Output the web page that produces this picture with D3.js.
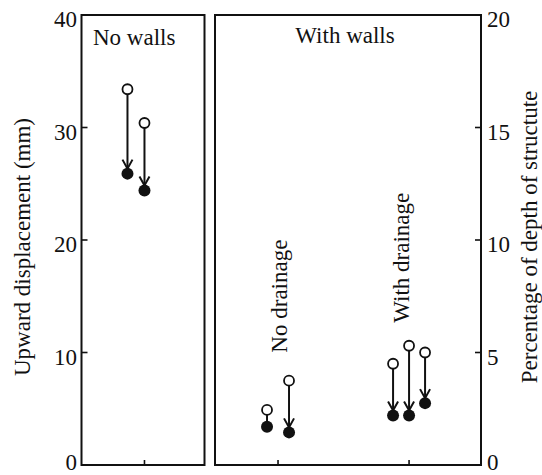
<!DOCTYPE html>
<html>
<head>
<meta charset="utf-8">
<script src="https://cdn.jsdelivr.net/npm/d3@7"></script>
<style>
  html, body { margin: 0; padding: 0; background: #fff; }
  svg { display: block; font-family: "Liberation Serif", "Times New Roman", serif; }
  svg text { font-family: "Liberation Serif", "Times New Roman", serif !important; }
</style>
</head>
<body>
<svg id="chart" width="542" height="475" font-family="Liberation Serif"></svg>
<script>
// ---- data ----
const panels = ["No walls", "With walls"];
const groups = ["No walls", "No drainage", "With drainage"];
const groupPanel = ["No walls", "With walls", "With walls"];
const testGroup = ["No walls", "No walls", "No drainage", "No drainage", "With drainage", "With drainage", "With drainage"];
const beforeMM = [33.4, 30.4, 4.9, 7.5, 9.0, 10.6, 10.0];   // open circles
const afterMM  = [25.9, 24.4, 3.4, 2.9, 4.4, 4.4, 5.5];     // filled circles
const leftTicks = [0, 10, 20, 30, 40];
const rightTicks = [0, 5, 10, 15, 20];
const leftLabel = "Upward displacement (mm)";
const rightLabel = "Percentage of depth of structute";

(function () {
// ---- layout ----
const FONT = "Liberation Serif";
const FS = 23;
const svg = d3.select("#chart");
const plotTop = 15, plotBottom = 465;
const panelX = { "No walls": [81.5, 204.5], "With walls": [215, 481] };
const y = d3.scaleLinear().domain([0, 40]).range([plotBottom, plotTop]);
const yR = d3.scaleLinear().domain([0, 20]).range([plotBottom, plotTop]);

const xLeft = d3.scalePoint().domain(["No walls"]).range(panelX["No walls"]).align(0.512);
const xRight = d3.scalePoint().domain(["No drainage", "With drainage"]).range(panelX["With walls"]).padding(0.515).align(0.467);
const groupX = g => g === "No walls" ? xLeft(g) : xRight(g);
const spacing = { "No walls": 17, "No drainage": 22, "With drainage": 16 };
const anchor = { "No walls": 1, "No drainage": 0.5, "With drainage": 1 };

const pts = beforeMM.map((b, i) => {
  const g = testGroup[i];
  const idx = testGroup.slice(0, i).filter(t => t === g).length;
  return { g, b, a: afterMM[i], x: groupX(g) + (idx - anchor[g]) * spacing[g] };
});

const ink = "#111";
const txt = (sel) => sel.attr("font-family", FONT).style("font-family", FONT).attr("fill", ink).attr("font-size", FS);

// panels (frames)
panels.forEach(p => {
  const [x0, x1] = panelX[p];
  svg.append("rect").attr("x", x0).attr("y", plotTop).attr("width", x1 - x0).attr("height", plotBottom - plotTop)
    .attr("fill", "none").attr("stroke", ink).attr("stroke-width", 2);
});

const labelY = v => Math.min(v + 12, 470);

// left axis ticks (inward) and labels
const axL = svg.append("g");
leftTicks.forEach(t => {
  axL.append("line").attr("x1", panelX["No walls"][0]).attr("x2", panelX["No walls"][0] + 6)
    .attr("y1", y(t)).attr("y2", y(t)).attr("stroke", ink).attr("stroke-width", 1.6);
  axL.append("text").attr("x", 77).attr("y", labelY(y(t))).attr("text-anchor", "end")
    .call(txt).text(t);
});
// right axis
const axR = svg.append("g");
rightTicks.forEach(t => {
  axR.append("line").attr("x1", panelX["With walls"][1] - 6).attr("x2", panelX["With walls"][1])
    .attr("y1", yR(t)).attr("y2", yR(t)).attr("stroke", ink).attr("stroke-width", 1.6);
  axR.append("text").attr("x", 487).attr("y", labelY(yR(t))).attr("text-anchor", "start")
    .call(txt).text(t);
});
// bottom ticks (inward)
groups.forEach(g => {
  svg.append("line").attr("x1", groupX(g)).attr("x2", groupX(g))
    .attr("y1", plotBottom).attr("y2", plotBottom - 5).attr("stroke", ink).attr("stroke-width", 1.6);
});

// axis titles
svg.append("text").attr("transform", `translate(30,247) rotate(-90)`)
  .attr("text-anchor", "middle").call(txt).text(leftLabel);
svg.append("text").attr("transform", `translate(537,237) rotate(-90)`)
  .attr("text-anchor", "middle").call(txt).text(rightLabel);

// panel titles
svg.append("text").attr("x", 93).attr("y", 45).call(txt).text(panels[0]);
svg.append("text").attr("x", 345).attr("y", 43).attr("text-anchor", "middle").call(txt).text(panels[1]);

// rotated group labels
const labelDx = { "No drainage": 9, "With drainage": 0 };
const labelGap = { "No drainage": 28, "With drainage": 23 };
["No drainage", "With drainage"].forEach(g => {
  const maxB = d3.max(pts.filter(p => p.g === g), p => p.b);
  svg.append("text")
    .attr("transform", `translate(${groupX(g) + labelDx[g]},${y(maxB) - labelGap[g]}) rotate(-90)`)
    .attr("text-anchor", "start").call(txt).text(g);
});

// arrows + circles
const rOpen = 5, rFill = 6;
const mk = svg.append("g");
pts.forEach(p => {
  const y0 = y(p.b) + rOpen, y1 = y(p.a) - rFill + 1;
  mk.append("line").attr("x1", p.x).attr("x2", p.x).attr("y1", y0).attr("y2", y1)
    .attr("stroke", ink).attr("stroke-width", 2);
  if (y1 - y0 > 12) {
    mk.append("path").attr("d", `M${p.x - 5},${y1 - 9} L${p.x},${y1} L${p.x + 5},${y1 - 9}`)
      .attr("fill", "none").attr("stroke", ink).attr("stroke-width", 2);
  }
  mk.append("circle").attr("cx", p.x).attr("cy", y(p.b)).attr("r", rOpen)
    .attr("fill", "#fff").attr("stroke", ink).attr("stroke-width", 1.8);
  mk.append("circle").attr("cx", p.x).attr("cy", y(p.a)).attr("r", rFill).attr("fill", ink);
});
})();
</script>
</body>
</html>
